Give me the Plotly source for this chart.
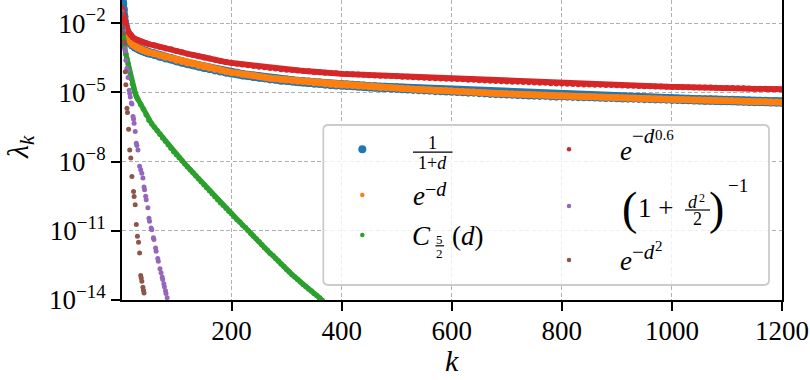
import plotly.graph_objects as go

# ---------------- data (exponents log10(lambda_k)) ----------------
k_top = [1, 2, 3, 4, 5, 6, 8, 10, 12, 14, 17, 20, 25, 30, 35, 40, 45] + list(range(50, 1201, 10))

blue_log = [-1.04, -1.15, -1.40, -1.70, -1.95, -2.12, -2.40, -2.55, -2.66, -2.74, -2.85, -2.94, -3.02, -3.09, -3.15, -3.20, -3.24,
            -3.28, -3.34, -3.42, -3.49, -3.54,
            -3.62, -3.68, -3.74, -3.79, -3.85, -3.91, -3.96, -4.01, -4.06, -4.11,
            -4.15, -4.18, -4.23, -4.26, -4.30, -4.33, -4.36, -4.40, -4.42, -4.46,
            -4.47, -4.49, -4.52, -4.53, -4.56, -4.59, -4.60, -4.63, -4.65, -4.67,
            -4.68, -4.69, -4.70, -4.72, -4.73, -4.75, -4.76, -4.78, -4.79, -4.80,
            -4.81, -4.83, -4.84, -4.86, -4.87, -4.88, -4.89, -4.91, -4.92, -4.93,
            -4.94, -4.95, -4.96, -4.98, -4.98, -5.00, -5.01, -5.03, -5.04, -5.05,
            -5.06, -5.07, -5.08, -5.09, -5.10, -5.11, -5.12, -5.12, -5.14, -5.15,
            -5.14, -5.15, -5.16, -5.17, -5.18, -5.18, -5.19, -5.20, -5.21, -5.21,
            -5.22, -5.23, -5.24, -5.24, -5.25, -5.26, -5.26, -5.27, -5.27, -5.28,
            -5.29, -5.29, -5.30, -5.31, -5.32, -5.32, -5.33, -5.33, -5.34, -5.35,
            -5.35, -5.35, -5.36, -5.37, -5.38, -5.39, -5.39, -5.39, -5.40, -5.40,
            -5.41]

orange_log = [-1.60, -1.81, -1.99, -2.12, -2.20, -2.29, -2.42, -2.53, -2.64, -2.72, -2.83, -2.92, -3.00, -3.07, -3.13, -3.18, -3.22,
              -3.26, -3.32, -3.40, -3.47, -3.52,
              -3.60, -3.66, -3.72, -3.77, -3.83, -3.89, -3.94, -3.99, -4.04, -4.09,
              -4.13, -4.16, -4.21, -4.24, -4.28, -4.31, -4.34, -4.38, -4.40, -4.44,
              -4.46, -4.48, -4.51, -4.52, -4.55, -4.58, -4.59, -4.62, -4.64, -4.66,
              -4.68, -4.69, -4.70, -4.72, -4.73, -4.75, -4.76, -4.78, -4.79, -4.80,
              -4.81, -4.83, -4.84, -4.86, -4.87, -4.88, -4.89, -4.91, -4.92, -4.93,
              -4.94, -4.95, -4.96, -4.98, -4.98, -5.00, -5.01, -5.03, -5.04, -5.05,
              -5.06, -5.07, -5.08, -5.09, -5.10, -5.11, -5.12, -5.12, -5.14, -5.15,
              -5.15, -5.16, -5.17, -5.18, -5.19, -5.19, -5.20, -5.21, -5.22, -5.22,
              -5.23, -5.24, -5.25, -5.25, -5.26, -5.27, -5.27, -5.28, -5.28, -5.29,
              -5.30, -5.30, -5.31, -5.32, -5.33, -5.33, -5.34, -5.34, -5.35, -5.36,
              -5.36, -5.36, -5.37, -5.38, -5.39, -5.40, -5.40, -5.40, -5.41, -5.41,
              -5.42]

red_log = [-1.34, -1.47, -1.60, -1.71, -1.81, -1.90, -2.07, -2.20, -2.33, -2.42, -2.51, -2.59, -2.68, -2.74, -2.79, -2.83, -2.87,
           -2.91, -2.96, -3.03, -3.09, -3.13,
           -3.20, -3.26, -3.32, -3.37, -3.43, -3.48, -3.53, -3.58, -3.63, -3.68,
           -3.72, -3.75, -3.79, -3.82, -3.85, -3.88, -3.91, -3.94, -3.96, -3.99,
           -4.01, -4.03, -4.05, -4.06, -4.08, -4.11, -4.12, -4.14, -4.16, -4.17,
           -4.19, -4.20, -4.21, -4.22, -4.23, -4.25, -4.26, -4.27, -4.28, -4.29,
           -4.30, -4.32, -4.32, -4.34, -4.35, -4.36, -4.37, -4.38, -4.39, -4.40,
           -4.41, -4.42, -4.43, -4.45, -4.45, -4.47, -4.48, -4.49, -4.50, -4.51,
           -4.52, -4.53, -4.54, -4.55, -4.56, -4.57, -4.58, -4.58, -4.60, -4.61,
           -4.61, -4.62, -4.63, -4.64, -4.65, -4.65, -4.66, -4.67, -4.68, -4.68,
           -4.69, -4.70, -4.71, -4.71, -4.72, -4.73, -4.73, -4.74, -4.74, -4.75,
           -4.76, -4.76, -4.77, -4.77, -4.78, -4.78, -4.79, -4.79, -4.80, -4.81,
           -4.81, -4.81, -4.82, -4.82, -4.83, -4.84, -4.84, -4.84, -4.85, -4.85,
           -4.86]

k_green = [1, 2, 4, 6, 8, 10, 12, 14, 16, 18, 20, 22, 24, 26, 28, 30] + list(range(35, 366, 5))
green_log = [-1.94, -2.29, -2.72, -3.03, -3.33, -3.55, -3.76, -3.98, -4.19, -4.41, -4.63, -4.80, -4.97, -5.10, -5.21, -5.30,
             -5.52, -5.73, -5.97, -6.21, -6.36, -6.51, -6.66, -6.81, -6.97, -7.12,
             -7.27, -7.42, -7.57, -7.70, -7.83, -7.96, -8.09, -8.22, -8.35, -8.48,
             -8.61, -8.74, -8.87, -9.00, -9.13, -9.26, -9.39, -9.52, -9.65, -9.78,
             -9.89, -10.02, -10.15, -10.26, -10.39, -10.52, -10.62, -10.75, -10.86, -10.99,
             -11.12, -11.23, -11.36, -11.47, -11.60, -11.73, -11.84, -11.97, -12.07, -12.20,
             -12.31, -12.44, -12.55, -12.68, -12.79, -12.90, -13.00, -13.11, -13.22, -13.33,
             -13.42, -13.52, -13.61, -13.72, -13.81, -13.91, -14.02]

k_purple = [1, 3, 4, 6, 7, 8, 10, 11, 12, 14, 15, 16, 18, 19, 21, 22, 23, 25, 27, 28, 30, 33, 35, 37, 39,
            41, 42, 44, 45, 48, 50, 51, 54, 55, 58, 59, 62, 63, 66, 67, 70, 72, 74, 75, 77, 78, 80, 81, 83]
purple_log = [-1.50, -2.20, -2.30, -3.10, -3.20, -3.60, -3.95, -4.05, -4.35, -4.90, -5.05, -5.20, -5.46, -5.50,
              -6.04, -6.15, -6.33, -6.69, -7.20, -7.30, -7.49, -8.20, -8.35, -8.50, -8.71, -9.10, -9.22, -9.50,
              -9.65, -10.00, -10.45, -10.59, -10.88, -10.95, -11.30, -11.38, -11.75, -11.89, -12.20, -12.32,
              -12.65, -12.82, -13.00, -13.11, -13.30, -13.43, -13.60, -13.72, -13.90]

k_brown = [1, 2, 3, 5, 6, 7, 8, 10, 11, 13, 15, 17, 19, 22, 23, 25, 27, 29, 31, 33, 35, 36, 37, 39, 40, 41]
brown_log = [-1.60, -2.20, -2.43, -2.80, -2.87, -4.10, -4.67, -5.68, -5.87, -6.59, -7.49, -7.84, -8.64, -9.29,
             -9.51, -9.87, -10.73, -11.24, -11.50, -11.96, -12.94, -13.05, -13.19, -13.45, -13.58, -13.70]

x_ticks = [200, 400, 600, 800, 1000, 1200]
y_ticks = [1e-14, 1e-11, 1e-8, 1e-5, 1e-2]
y_ticktext = ["10<sup>−14</sup>", "10<sup>−11</sup>", "10<sup>−8</sup>", "10<sup>−5</sup>", "10<sup>−2</sup>"]

BLUE, ORANGE, GREEN, RED, PURPLE, BROWN = "#1f77b4", "#ff7f0e", "#2ca02c", "#d62728", "#9467bd", "#8c564b"
FONT = "Liberation Serif, Times New Roman, serif"


def pw(vals):
    return [10 ** v for v in vals]


fig = go.Figure()
# (name, k, values, colour, marker size, band line width or 0)
series = [
    ("1/(1+d)", k_top, blue_log, BLUE, 9.5, 9.0),
    ("exp(-d)", k_top, orange_log, ORANGE, 7, 6.5),
    ("C_5/2(d)", k_green, green_log, GREEN, 5.5, 5.0),
    ("exp(-d^0.6)", k_top, red_log, RED, 6, 5.8),
    ("(1+d^2/2)^-1", k_purple, purple_log, PURPLE, 5, 0),
    ("exp(-d^2)", k_brown, brown_log, BROWN, 5, 0),
]
for name, kk, vals, col, sz, lw in series:
    mode = "lines+markers" if lw > 0 else "markers"
    fig.add_trace(go.Scatter(x=kk, y=pw(vals), mode=mode, name=name, showlegend=False,
                             line=dict(color=col, width=lw) if lw > 0 else None,
                             marker=dict(color=col, size=sz, line=dict(width=0))))

L, R, T, B = 122, 782, 0, 300
W, H = R - L, B - T


def PX(x):
    return (x - L) / W


def PY(y):
    return (B - y) / H


grid = dict(showgrid=True, gridcolor="#b0b0b0", gridwidth=1, griddash="4px,2.5px")
axis_common = dict(ticks="outside", ticklen=9, tickwidth=1.8, tickcolor="black", showline=True,
                   linecolor="black", linewidth=2, mirror=True, zeroline=False, automargin=False,
                   tickfont=dict(family=FONT, size=27, color="black"), **grid)

fig.update_xaxes(range=[1, 1200], tickvals=x_ticks, ticktext=[str(v) for v in x_ticks],
                 ticklabelstandoff=-3, **axis_common)
fig.update_yaxes(type="log", range=[-14, -0.99], tickvals=y_ticks, ticktext=y_ticktext, **axis_common)

fig.update_layout(width=810, height=380, margin=dict(l=L, r=810 - R, t=T, b=380 - B),
                  paper_bgcolor="white", plot_bgcolor="white", showlegend=False,
                  font=dict(family=FONT, color="black"))

# axis titles
fig.add_annotation(x=PX(452), y=PY(371 - 0.34 * 30), xref="paper", yref="paper", text="<i>k</i>",
                   showarrow=False, xanchor="center", yanchor="middle", font=dict(family=FONT, size=30))
fig.add_annotation(x=PX(20), y=PY(147), xref="paper", yref="paper", text="<i>λ</i><sub><i>k</i></sub>",
                   showarrow=False, xanchor="center", yanchor="middle", textangle=-90,
                   font=dict(family=FONT, size=30))

# ---- legend box (drawn by hand so the math can be typeset) ----
x0, x1, y0, y1, r = 323.3, 769.0, 125.0, 285.0, 5.0
pts = [("M", x0 + r, y0), ("L", x1 - r, y0), ("Q", x1, y0, x1, y0 + r), ("L", x1, y1 - r),
       ("Q", x1, y1, x1 - r, y1), ("L", x0 + r, y1), ("Q", x0, y1, x0, y1 - r), ("L", x0, y0 + r),
       ("Q", x0, y0, x0 + r, y0)]
path = ""
for p in pts:
    cmd = p[0]
    coords = p[1:]
    s = []
    for i in range(0, len(coords), 2):
        s.append(f"{PX(coords[i]):.5f},{PY(coords[i + 1]):.5f}")
    path += cmd + " " + " ".join(s) + " "
path += "Z"
fig.add_shape(type="path", path=path, xref="paper", yref="paper", layer="above",
              line=dict(color="#cccccc", width=1.8), fillcolor="rgba(255,255,255,0.8)")

legend_markers = [(362.3, 149.3, BLUE, 8), (362.3, 195, ORANGE, 4.5), (362.3, 235, GREEN, 4.5),
                  (569, 149.3, RED, 4.5), (569, 206, PURPLE, 4.5), (569, 260, BROWN, 4.5)]
for cx, cy, col, d in legend_markers:
    fig.add_shape(type="circle", xref="paper", yref="paper", xsizemode="pixel", ysizemode="pixel",
                  xanchor=PX(cx), yanchor=PY(cy), x0=-d / 2, x1=d / 2, y0=-d / 2, y1=d / 2,
                  fillcolor=col, line=dict(width=0), layer="above")


def txt(x, base, text, size, xanchor="left"):
    fig.add_annotation(x=PX(x), y=PY(base - 0.34 * size), xref="paper", yref="paper", text=text,
                       showarrow=False, xanchor=xanchor, yanchor="middle", borderpad=0,
                       font=dict(family=FONT, size=size, color="black"))


def bar(xa, xb, y):
    fig.add_shape(type="line", xref="paper", yref="paper", x0=PX(xa), x1=PX(xb), y0=PY(y), y1=PY(y),
                  line=dict(color="black", width=1.2), layer="above")


# 1/(1+d)
txt(432.7, 149.3, "1", 18, "center")
bar(413, 452.5, 152.2)
txt(432.7, 169.5, "1+<i>d</i>", 18, "center")
# e^{-d}
txt(411.5, 205, "<i>e</i>", 27)
txt(423.5, 196, "−<i>d</i>", 20)
# C_{5/2}(d)
txt(411, 245, "<i>C</i>", 27)
txt(439.7, 243.5, "5", 13, "center")
bar(435.5, 444, 245.8)
txt(439.7, 257.5, "2", 13, "center")
txt(450.5, 245, "(<i>d</i>)", 27)
# e^{-d^{0.6}}
txt(619, 160, "<i>e</i>", 27)
txt(630.5, 143.5, "−<i>d</i>", 21)
txt(654, 140, "0.6", 15)
# (1 + d^2/2)^{-1}
txt(620.5, 224, "(", 46)
txt(637, 216.7, "1 +", 27)
txt(686.5, 208.3, "<i>d</i>", 18)
txt(697.5, 202.5, "2", 12)
bar(685, 710, 210)
txt(697.5, 225, "2", 18, "center")
txt(707.5, 224, ")", 46)
txt(727, 191.5, "−1", 19)
# e^{-d^2}
txt(619, 270, "<i>e</i>", 27)
txt(630.5, 259.5, "−<i>d</i>", 21)
txt(653.5, 251, "2", 15)

fig.write_html("out.html", config={"displayModeBar": False},
               post_script="document.body.style.margin='0px';document.body.style.padding='0px';")
